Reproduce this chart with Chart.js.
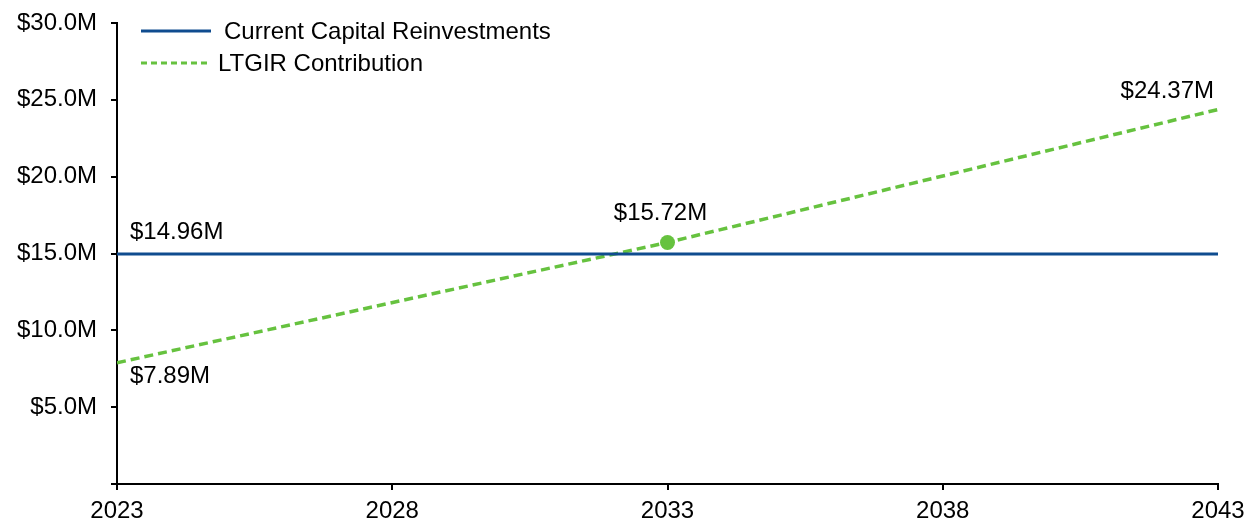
<!DOCTYPE html>
<html>
<head>
<meta charset="utf-8">
<script src="https://cdn.jsdelivr.net/npm/chart.js@4.4.1/dist/chart.umd.min.js"></script>
<style>
  html, body { margin: 0; padding: 0; background: #fff; }
  #wrap { width: 1254px; height: 523px; }
</style>
</head>
<body>
<div id="wrap"><canvas id="chartCap"></canvas></div>
<script>
// anos e valores (milhões)
const anos = [2023, 2033, 2043];
const capitalAtual = [14.96, 14.96, 14.96];
const ltgir = [7.89, 15.72, 24.37];
const yTicks = [0, 5, 10, 15, 20, 25, 30];
const xTicks = [2023, 2028, 2033, 2038, 2043];

const azul = '#0f4c8f';
const verde = '#66c23f';
const fonte = "'Liberation Sans', Arial, sans-serif";

// rótulos de valor: [dataset, índice, dx, dy, align]
const rotulos = [
    [0, 0, 13, -22, 'left'],
    [1, 0, 13, 14, 'left'],
    [1, 1, -7, -29, 'center'],
    [1, 2, -4, -18, 'right']
];

const pluginRotulos = {
    id: 'rotulos',
    afterDatasetsDraw(chart) {
        const ctx = chart.ctx;
        ctx.save();
        ctx.font = '24px ' + fonte;
        ctx.fillStyle = '#000';
        ctx.textBaseline = 'middle';
        rotulos.forEach(([ds, i, dx, dy, al]) => {
            const pt = chart.getDatasetMeta(ds).data[i];
            const v = chart.data.datasets[ds].data[i].y;
            ctx.textAlign = al;
            ctx.fillText('$' + v.toFixed(2) + 'M', pt.x + dx, pt.y + dy);
        });
        ctx.restore();
    }
};

// legenda desenhada dentro da área do gráfico
const pluginLegenda = {
    id: 'legendaInterna',
    afterDraw(chart) {
        const ctx = chart.ctx;
        ctx.save();
        ctx.lineWidth = 3;
        ctx.strokeStyle = azul;
        ctx.beginPath();
        ctx.moveTo(141, 31);
        ctx.lineTo(211, 31);
        ctx.stroke();
        ctx.strokeStyle = verde;
        ctx.setLineDash([6, 4]);
        ctx.beginPath();
        ctx.moveTo(141, 63);
        ctx.lineTo(211, 63);
        ctx.stroke();
        ctx.setLineDash([]);
        ctx.font = '24px ' + fonte;
        ctx.fillStyle = '#000';
        ctx.textAlign = 'left';
        ctx.textBaseline = 'middle';
        ctx.fillText('Current Capital Reinvestments', 224, 32);
        ctx.fillText('LTGIR Contribution', 218, 64);
        ctx.restore();
    }
};

const dadosCap = {
    datasets: [{
        label: 'Current Capital Reinvestments',
        data: anos.map((a, i) => ({ x: a, y: capitalAtual[i] })),
        borderColor: azul,
        borderWidth: 3,
        pointRadius: 0,
        fill: false
    }, {
        label: 'LTGIR Contribution',
        data: anos.map((a, i) => ({ x: a, y: ltgir[i] })),
        borderColor: verde,
        backgroundColor: verde,
        borderWidth: 3.5,
        borderDash: [9, 5],
        pointRadius: [0, 7.5, 0],
        pointBorderWidth: 0,
        fill: false
    }]
};

const configCap = {
    type: 'line',
    data: dadosCap,
    plugins: [pluginRotulos, pluginLegenda],
    options: {
        responsive: true,
        maintainAspectRatio: false,
        animation: false,
        layout: {
            padding: { left: 0, right: 36, top: 23, bottom: 0 }
        },
        scales: {
            x: {
                type: 'linear',
                min: 2023,
                max: 2043,
                afterBuildTicks: (ax) => { ax.ticks = xTicks.map(v => ({ value: v })); },
                afterFit: (ax) => { ax.height = 39; ax.paddingLeft = 0; ax.paddingRight = 0; },
                border: { color: '#000', width: 2 },
                grid: { drawOnChartArea: false, tickLength: 6, color: '#000', lineWidth: 2 },
                ticks: {
                    color: '#000',
                    padding: 7,
                    maxRotation: 0,
                    font: { size: 24, family: fonte },
                    callback: (v) => String(v)
                }
            },
            y: {
                min: 0,
                max: 30,
                afterBuildTicks: (ax) => { ax.ticks = yTicks.map(v => ({ value: v })); },
                afterFit: (ax) => { ax.width = 117; ax.paddingTop = 0; ax.paddingBottom = 0; },
                border: { color: '#000', width: 2 },
                grid: { drawOnChartArea: false, tickLength: 6, color: '#000', lineWidth: 2 },
                ticks: {
                    color: '#000',
                    padding: 14,
                    font: { size: 24, family: fonte },
                    callback: (v) => v === 0 ? '' : '$' + v.toFixed(1) + 'M'
                }
            }
        },
        plugins: {
            legend: { display: false },
            tooltip: { enabled: false }
        }
    }
};

new Chart(document.getElementById('chartCap').getContext('2d'), configCap);
</script>
</body>
</html>
